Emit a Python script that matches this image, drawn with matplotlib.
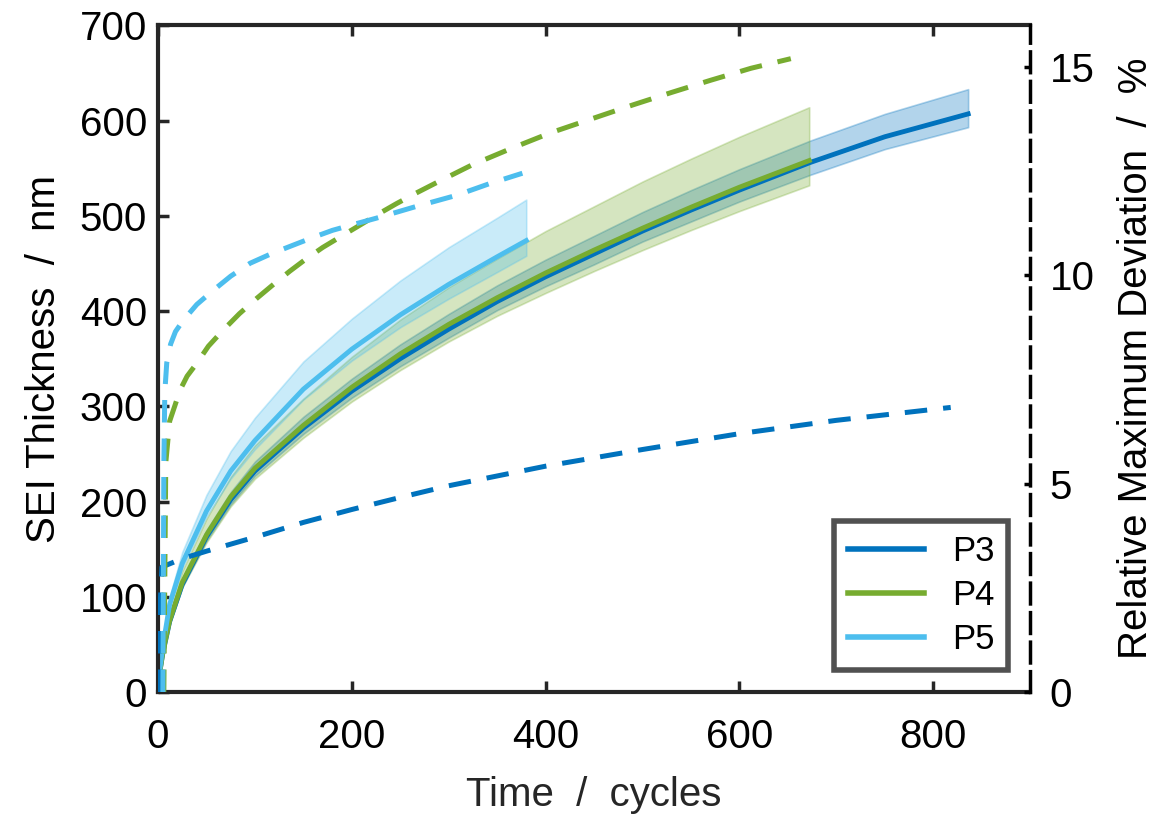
import matplotlib
import matplotlib.pyplot as plt

matplotlib.use("Agg")

plt.rcParams["font.family"] = ["Liberation Sans", "DejaVu Sans"]

# SEI thickness (left axis), mean with lower/upper band
p3_x = [0, 2, 5, 12, 25, 50, 75, 100, 150, 200, 250, 300, 350, 400, 450, 500, 550, 600, 673, 750, 836]
p3_mean = [0, 22, 41, 74, 113, 163, 202, 232, 277, 316, 350, 381, 410, 436, 460, 484, 506, 527, 556, 583, 607]
p3_upper = [0, 23, 43, 77, 118, 170, 210, 242, 289, 329, 365, 397, 427, 454, 479, 504, 527, 549, 579, 607, 633]
p3_lower = [0, 21, 40, 72, 110, 159, 197, 227, 271, 309, 342, 372, 401, 426, 449, 473, 494, 515, 543, 570, 593]

p4_x = [0, 2, 5, 12, 25, 50, 75, 100, 150, 200, 250, 300, 350, 400, 450, 500, 550, 600, 672]
p4_mean = [0, 22, 42, 75, 115, 165, 205, 235, 280, 320, 355, 386, 414, 440, 464, 487, 509, 530, 558]
p4_upper = [0, 24, 46, 83, 127, 182, 226, 259, 308, 352, 391, 425, 455, 484, 510, 536, 560, 583, 614]
p4_lower = [0, 21, 40, 71, 110, 157, 195, 224, 267, 305, 338, 368, 395, 419, 442, 464, 485, 505, 532]

p5_x = [0, 2, 5, 12, 25, 50, 75, 100, 150, 200, 250, 300, 350, 380]
p5_mean = [0, 25, 48, 92, 135, 190, 232, 264, 318, 360, 396, 428, 457, 474]
p5_upper = [0, 27, 52, 100, 147, 207, 253, 288, 347, 392, 432, 467, 498, 517]
p5_lower = [0, 24, 46, 89, 130, 184, 224, 255, 307, 348, 383, 413, 441, 458]

# Relative maximum deviation (right axis)
p3_dev_x = [1, 2, 4, 25, 50, 105, 150, 200, 250, 300, 400, 500, 600, 700, 818]
p3_dev = [0, 2.0, 3.0, 3.2, 3.38, 3.75, 4.07, 4.38, 4.67, 4.95, 5.42, 5.82, 6.2, 6.52, 6.83]

p4_dev_x = [6, 8, 12, 17.5, 22.6, 30, 40, 52, 67, 84, 102, 120, 136, 152, 170, 190, 208,
            228, 246, 266, 287, 324, 365, 405, 448, 490, 530, 570, 612, 653]
p4_dev = [0, 5.5, 6.5, 6.88, 7.24, 7.58, 7.89, 8.3, 8.68, 9.08, 9.45, 9.8, 10.1, 10.38,
          10.67, 10.95, 11.2, 11.48, 11.72, 11.97, 12.22, 12.65, 13.05, 13.42, 13.76,
          14.09, 14.39, 14.68, 14.97, 15.2]

p5_dev_x = [5, 6, 7, 9, 13, 18, 26, 40, 57, 75, 95, 117, 139, 160, 180, 203, 225, 266, 308, 342, 376]
p5_dev = [0, 5.5, 7.2, 7.9, 8.35, 8.65, 8.92, 9.3, 9.64, 9.98, 10.29, 10.52, 10.72, 10.91,
          11.08, 11.23, 11.37, 11.65, 11.92, 12.2, 12.45]

series = [
    ("P3", "#0072BD", p3_x, p3_mean, p3_lower, p3_upper, p3_dev_x, p3_dev),
    ("P4", "#77AC30", p4_x, p4_mean, p4_lower, p4_upper, p4_dev_x, p4_dev),
    ("P5", "#4DBEEE", p5_x, p5_mean, p5_lower, p5_upper, p5_dev_x, p5_dev),
]

axis_col = "#262626"
fs = 29

fig = plt.figure(figsize=(11.68, 8.17), dpi=100)
ax = fig.add_axes([0.1353, 0.153, 0.7467, 0.816])
ax2 = ax.twinx()

handles = []
for name, col, x, m, lo, up, dx, dv in series:
    ax.fill_between(x, lo, up, facecolor=col, alpha=0.3, edgecolor=col, linewidth=1.2)
    (h,) = ax.plot(x, m, color=col, linewidth=3.5, label=name, solid_joinstyle="round")
    handles.append(h)
    ax2.plot(dx, dv, color=col, linewidth=3.6, linestyle=(0, (4.5, 3.2)))

ax.set_xlim(0, 900)
ax.set_ylim(0, 700)
ax2.set_ylim(0, 16)

ax.set_xticks([0, 200, 400, 600, 800])
ax.set_yticks(range(0, 701, 100))
ax2.set_yticks([0, 5, 10, 15])

ax.tick_params(axis="both", direction="in", length=8, width=2.5, labelsize=fs,
               colors=axis_col, labelcolor="black", top=True, right=False, pad=8)
ax.tick_params(axis="x", pad=19)
ax2.tick_params(axis="y", direction="in", length=4, width=2.5, labelsize=fs,
                colors="black", pad=14)

for side in ["left", "bottom", "top"]:
    ax.spines[side].set_linewidth(3)
    ax.spines[side].set_color(axis_col)
ax.spines["right"].set_visible(False)
for side in ["left", "bottom", "top"]:
    ax2.spines[side].set_visible(False)
ax2.spines["right"].set_linestyle((0, (6, 2.5)))
ax2.spines["right"].set_linewidth(2.5)
ax2.spines["right"].set_color("black")

ax.set_xlabel("Time  /  cycles", fontsize=fs, color=axis_col, labelpad=14)
ax.set_ylabel("SEI Thickness  /  nm", fontsize=fs, color="black", labelpad=12)
ax2.set_ylabel("Relative Maximum Deviation  /  %", fontsize=fs, color="black", labelpad=16)

leg = ax2.legend(handles=handles, loc="lower right", fontsize=25, frameon=True,
                 fancybox=False, handlelength=2.2, borderpad=0.4, labelspacing=0.32,
                 handletextpad=0.8, borderaxespad=0, bbox_to_anchor=(0.975, 0.033))
leg.get_frame().set_edgecolor(axis_col)
leg.get_frame().set_linewidth(4)
for line in leg.get_lines():
    line.set_linewidth(4)

fig.savefig("out.png", dpi=100)
